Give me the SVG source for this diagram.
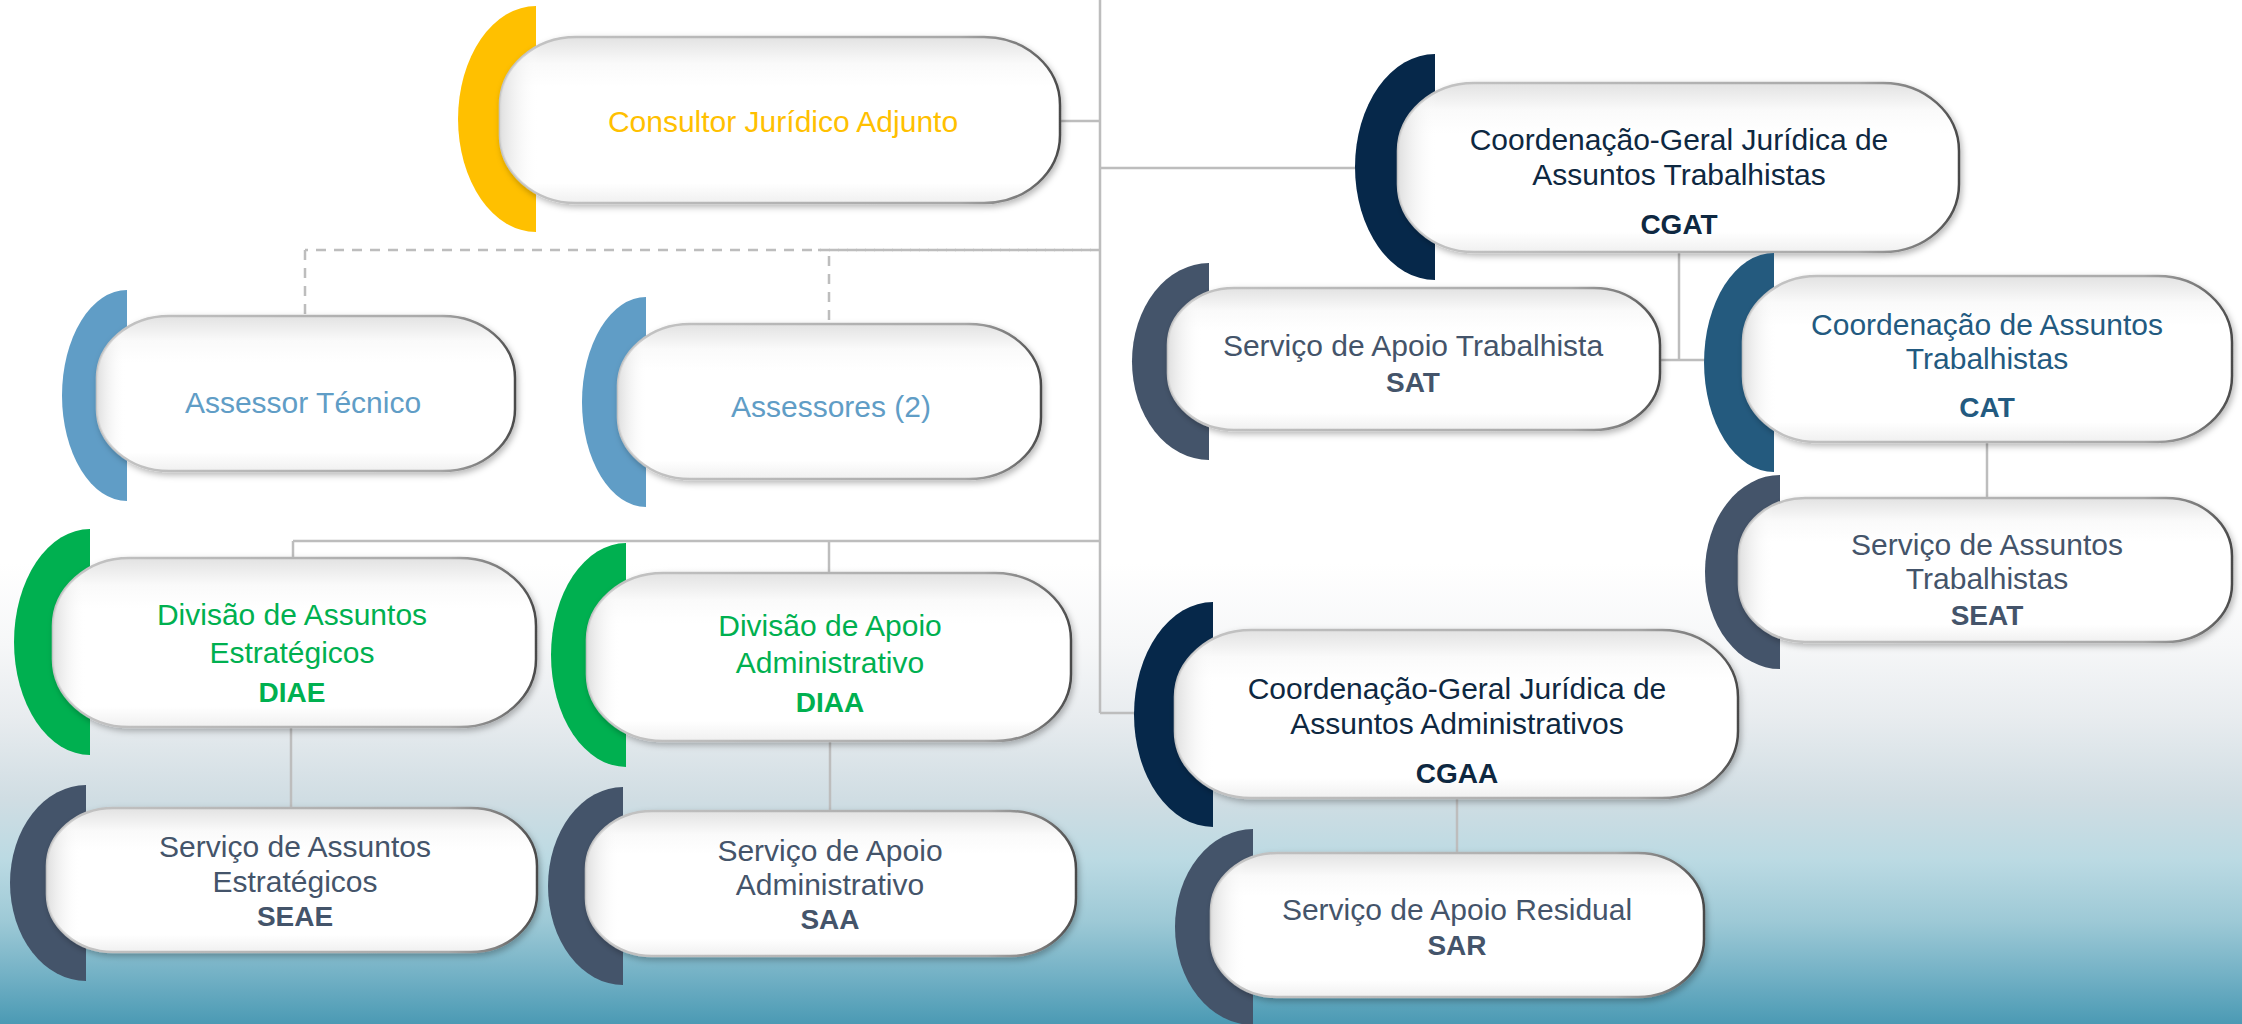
<svg xmlns="http://www.w3.org/2000/svg" width="2242" height="1024" viewBox="0 0 2242 1024">
<defs>
  <linearGradient id="bg" gradientUnits="userSpaceOnUse" x1="0" y1="0" x2="0" y2="1024">
    <stop offset="0" stop-color="#FFFFFF"/>
    <stop offset="0.55" stop-color="#FFFFFF"/>
    <stop offset="0.63" stop-color="#F6F7F8"/>
    <stop offset="0.70" stop-color="#E8ECEF"/>
    <stop offset="0.78" stop-color="#D0DDE3"/>
    <stop offset="0.84" stop-color="#BBDAE3"/>
    <stop offset="0.90" stop-color="#9DC9D6"/>
    <stop offset="0.95" stop-color="#75B2C6"/>
    <stop offset="1" stop-color="#4B9AB4"/>
  </linearGradient>
  <linearGradient id="pillFill" x1="0" y1="0" x2="0" y2="1">
    <stop offset="0" stop-color="#E2E2E2"/>
    <stop offset="0.16" stop-color="#FAFAFA"/>
    <stop offset="0.3" stop-color="#FFFFFF"/>
    <stop offset="0.88" stop-color="#FFFFFF"/>
    <stop offset="1" stop-color="#F0F0F0"/>
  </linearGradient>
  <linearGradient id="leftShade" x1="0" y1="0" x2="1" y2="0">
    <stop offset="0" stop-color="#DCDCDC" stop-opacity="0.9"/>
    <stop offset="0.07" stop-color="#FFFFFF" stop-opacity="0"/>
    <stop offset="1" stop-color="#FFFFFF" stop-opacity="0"/>
  </linearGradient>
  <linearGradient id="rim" x1="0" y1="0" x2="1" y2="0">
    <stop offset="0" stop-color="#C4C4C4"/>
    <stop offset="0.82" stop-color="#A8A8A8"/>
    <stop offset="0.93" stop-color="#7A7A7A"/>
    <stop offset="1" stop-color="#4A4A4A"/>
  </linearGradient>
  <filter id="shadow" x="-10%" y="-20%" width="120%" height="140%">
    <feDropShadow dx="2" dy="3" stdDeviation="3" flood-color="#000000" flood-opacity="0.28"/>
  </filter>
  <style>
    .pill { fill: url(#pillFill); stroke: url(#rim); stroke-width: 2.5; filter: url(#shadow); }
    .shade { fill: url(#leftShade); stroke: none; }
    .conn { stroke: #BDBDBD; stroke-width: 2.5; fill: none; }
    .dash { stroke: #BDBDBD; stroke-width: 2.5; fill: none; stroke-dasharray: 10 8; }
    text { font-family: "Liberation Sans", Arial, sans-serif; font-size: 30px; text-anchor: middle; }
    .b { font-weight: bold; font-size: 28px; }
    .yellow { fill: #FFC000; }
    .lblue { fill: #609DC6; }
    .navy { fill: #0E2841; }
    .mblue { fill: #235A80; }
    .slate { fill: #44546A; }
    .green { fill: #00B050; }
  </style>
</defs>

<rect x="0" y="0" width="2242" height="1024" fill="url(#bg)"/>

<g id="connectors">
  <line class="conn" x1="1100" y1="0" x2="1100" y2="713"/>
  <line class="conn" x1="1060" y1="121" x2="1100" y2="121"/>
  <line class="conn" x1="1100" y1="168" x2="1370" y2="168"/>
  <line class="dash" x1="1100" y1="250" x2="305" y2="250"/>
  <line class="dash" x1="1100" y1="250" x2="818" y2="250" stroke-dashoffset="9"/>
  <line class="dash" x1="305" y1="250" x2="305" y2="318"/>
  <line class="dash" x1="829" y1="256" x2="829" y2="326"/>
  <line class="conn" x1="1100" y1="541" x2="293" y2="541"/>
  <line class="conn" x1="293" y1="541" x2="293" y2="560"/>
  <line class="conn" x1="829" y1="541" x2="829" y2="575"/>
  <line class="conn" x1="1100" y1="713" x2="1150" y2="713"/>
  <line class="conn" x1="291" y1="725" x2="291" y2="810"/>
  <line class="conn" x1="830" y1="739" x2="830" y2="813"/>
  <line class="conn" x1="1679" y1="250" x2="1679" y2="360"/>
  <line class="conn" x1="1658" y1="360" x2="1715" y2="360"/>
  <line class="conn" x1="1987" y1="440" x2="1987" y2="500"/>
  <line class="conn" x1="1457" y1="796" x2="1457" y2="855"/>
</g>

<g id="node-consultor">
  <path d="M536,6 A78,113 0 0 0 536,232 Z" fill="#FFC000"/>
  <rect class="pill" x="500" y="37" width="560" height="166" rx="76" ry="68"/>
  <rect class="shade" x="500" y="37" width="560" height="166" rx="76" ry="68"/>
  <text class="yellow" x="783" y="132">Consultor Jurídico Adjunto</text>
</g>

<g id="node-assessor-tecnico">
  <path d="M127,290 A65,105.5 0 0 0 127,501 Z" fill="#609DC6"/>
  <rect class="pill" x="97" y="316" width="418" height="155" rx="72" ry="62"/>
  <rect class="shade" x="97" y="316" width="418" height="155" rx="72" ry="62"/>
  <text class="lblue" x="303" y="413">Assessor Técnico</text>
</g>

<g id="node-assessores">
  <path d="M646,297 A64,105 0 0 0 646,507 Z" fill="#609DC6"/>
  <rect class="pill" x="618" y="324" width="423" height="155" rx="72" ry="62"/>
  <rect class="shade" x="618" y="324" width="423" height="155" rx="72" ry="62"/>
  <text class="lblue" x="831" y="417">Assessores (2)</text>
</g>

<g id="node-cgat">
  <path d="M1435,54 A80,113 0 0 0 1435,280 Z" fill="#06284A"/>
  <rect class="pill" x="1398" y="83" width="561" height="169" rx="76" ry="68"/>
  <rect class="shade" x="1398" y="83" width="561" height="169" rx="76" ry="68"/>
  <text class="navy" x="1679" y="150">Coordenação-Geral Jurídica de</text>
  <text class="navy" x="1679" y="185">Assuntos Trabalhistas</text>
  <text class="navy b" x="1679" y="234">CGAT</text>
</g>

<g id="node-sat">
  <path d="M1209,263 A77,98.5 0 0 0 1209,460 Z" fill="#44546A"/>
  <rect class="pill" x="1168" y="288" width="492" height="142" rx="66" ry="57"/>
  <rect class="shade" x="1168" y="288" width="492" height="142" rx="66" ry="57"/>
  <text class="slate" x="1413" y="356">Serviço de Apoio Trabalhista</text>
  <text class="slate b" x="1413" y="392">SAT</text>
</g>

<g id="node-cat">
  <path d="M1774,253 A70,109.5 0 0 0 1774,472 Z" fill="#245A7E"/>
  <rect class="pill" x="1743" y="276" width="489" height="166" rx="74" ry="66"/>
  <rect class="shade" x="1743" y="276" width="489" height="166" rx="74" ry="66"/>
  <text class="mblue" x="1987" y="335">Coordenação de Assuntos</text>
  <text class="mblue" x="1987" y="369">Trabalhistas</text>
  <text class="mblue b" x="1987" y="417">CAT</text>
</g>

<g id="node-seat">
  <path d="M1780,475 A75,97 0 0 0 1780,669 Z" fill="#44546A"/>
  <rect class="pill" x="1739" y="498" width="493" height="144" rx="66" ry="58"/>
  <rect class="shade" x="1739" y="498" width="493" height="144" rx="66" ry="58"/>
  <text class="slate" x="1987" y="555">Serviço de Assuntos</text>
  <text class="slate" x="1987" y="589">Trabalhistas</text>
  <text class="slate b" x="1987" y="625">SEAT</text>
</g>

<g id="node-cgaa">
  <path d="M1213,602 A79,112.5 0 0 0 1213,827 Z" fill="#06284A"/>
  <rect class="pill" x="1175" y="630" width="563" height="168" rx="76" ry="67"/>
  <rect class="shade" x="1175" y="630" width="563" height="168" rx="76" ry="67"/>
  <text class="navy" x="1457" y="699">Coordenação-Geral Jurídica de</text>
  <text class="navy" x="1457" y="734">Assuntos Administrativos</text>
  <text class="navy b" x="1457" y="783">CGAA</text>
</g>

<g id="node-sar">
  <path d="M1253,829 A78,98 0 0 0 1253,1025 Z" fill="#44546A"/>
  <rect class="pill" x="1211" y="853" width="493" height="144" rx="66" ry="58"/>
  <rect class="shade" x="1211" y="853" width="493" height="144" rx="66" ry="58"/>
  <text class="slate" x="1457" y="920">Serviço de Apoio Residual</text>
  <text class="slate b" x="1457" y="955">SAR</text>
</g>

<g id="node-diae">
  <path d="M90,529 A76,113 0 0 0 90,755 Z" fill="#00B050"/>
  <rect class="pill" x="53" y="558" width="483" height="169" rx="76" ry="68"/>
  <rect class="shade" x="53" y="558" width="483" height="169" rx="76" ry="68"/>
  <text class="green" x="292" y="625">Divisão de Assuntos</text>
  <text class="green" x="292" y="663">Estratégicos</text>
  <text class="green b" x="292" y="702">DIAE</text>
</g>

<g id="node-diaa">
  <path d="M626,543 A75,112 0 0 0 626,767 Z" fill="#00B050"/>
  <rect class="pill" x="587" y="573" width="484" height="168" rx="76" ry="67"/>
  <rect class="shade" x="587" y="573" width="484" height="168" rx="76" ry="67"/>
  <text class="green" x="830" y="636">Divisão de Apoio</text>
  <text class="green" x="830" y="673">Administrativo</text>
  <text class="green b" x="830" y="712">DIAA</text>
</g>

<g id="node-seae">
  <path d="M86,785 A76,98 0 0 0 86,981 Z" fill="#44546A"/>
  <rect class="pill" x="47" y="808" width="490" height="144" rx="66" ry="58"/>
  <rect class="shade" x="47" y="808" width="490" height="144" rx="66" ry="58"/>
  <text class="slate" x="295" y="857">Serviço de Assuntos</text>
  <text class="slate" x="295" y="892">Estratégicos</text>
  <text class="slate b" x="295" y="926">SEAE</text>
</g>

<g id="node-saa">
  <path d="M623,787 A75,99 0 0 0 623,985 Z" fill="#44546A"/>
  <rect class="pill" x="586" y="811" width="490" height="145" rx="66" ry="58"/>
  <rect class="shade" x="586" y="811" width="490" height="145" rx="66" ry="58"/>
  <text class="slate" x="830" y="861">Serviço de Apoio</text>
  <text class="slate" x="830" y="895">Administrativo</text>
  <text class="slate b" x="830" y="929">SAA</text>
</g>
</svg>
